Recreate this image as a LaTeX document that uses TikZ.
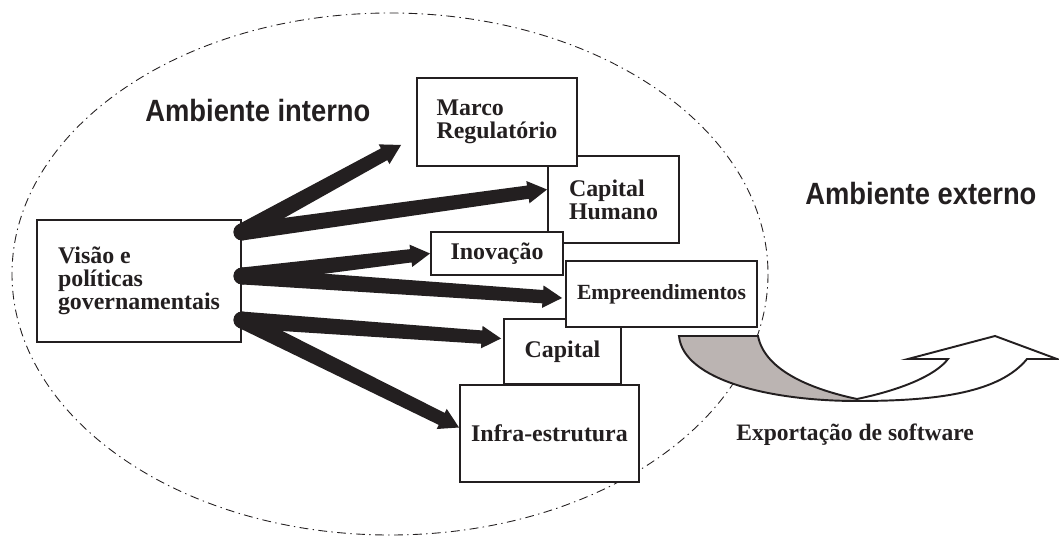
\documentclass[tikz,border=0pt]{standalone}
\usepackage{fontspec}
\setmainfont{Liberation Serif}
\newfontfamily\headfont[FakeStretch=0.89]{Liberation Sans}
\usetikzlibrary{calc,positioning}
\definecolor{ink}{RGB}{35,31,32}
\definecolor{greyfill}{RGB}{187,180,178}
%Tapered arrow from #1 to #2
\newcommand{\fatarrow}[2]{%
	\coordinate (neck) at ($(#2)!11pt!(#1)$);
	\fill[ink] ($(#1)!4.8pt!90:(#2)$) -- ($(neck)!3.8pt!-90:(#1)$) -- ($(neck)!6.4pt!-90:(#1)$) -- (#2)
		-- ($(neck)!6.4pt!90:(#1)$) -- ($(neck)!3.8pt!90:(#1)$) -- ($(#1)!4.8pt!-90:(#2)$) -- cycle;
	\fill[ink] (#1) circle (4.8pt);
}
\begin{document}
\begin{tikzpicture}[x=0.02cm,y=-0.02cm,
		box/.style={draw=ink,line width=1.1pt,fill=white,inner sep=0pt,align=left,text=ink,
			font=\bfseries\fontsize{13.6pt}{13.2pt}\selectfont},
		envlabel/.style={anchor=base west,inner sep=0pt,text=ink,
			font=\headfont\bfseries\fontsize{17.5pt}{20pt}\selectfont}]
	\useasboundingbox (0,0) rectangle (1059,537);
	%Ellipse
	\draw[ink,line width=0.5pt,dash pattern=on 5pt off 2.5pt on 0.8pt off 2.5pt] (390,274) ellipse [x radius=378,y radius=261];
	\node[envlabel] (interno) at (145,122) {Ambiente interno};
	\node[envlabel] (externo) at (805,205) {Ambiente externo};
	%Boxes
	\node[box,minimum width=2.62cm,minimum height=1.74cm] (humano) at (613.5,199.5) {Capital\\Humano};
	\node[box,minimum width=3.20cm,minimum height=1.76cm] (marco) at (497,122) {Marco\\Regulatório};
	\node[box,minimum width=2.64cm,minimum height=0.86cm] (inovacao) at (497,253.5) {Inovação};
	\node[box,minimum width=2.34cm,minimum height=1.30cm] (capital) at (562.5,351.5) {Capital};
	\node[box,minimum width=3.82cm,minimum height=1.32cm,font=\bfseries\fontsize{12.3pt}{13pt}\selectfont] (empreend) at (661.5,294) {Empreendimentos};
	\node[box,minimum width=3.58cm,minimum height=1.94cm] (infra) at (549.5,433.5) {Infra-estrutura};
	\node[box,minimum width=4.08cm,minimum height=2.44cm] (visao) at (139,281) {Visão e\\políticas\\governamentais};
	%Arrows
	\coordinate (s1) at ($(visao.east)+(0,-49)$);
	\coordinate (s2) at ($(visao.east)+(0,-5)$);
	\coordinate (s3) at ($(visao.east)+(0,39)$);
	\coordinate (tmarco) at ($(marco.south west)+(-15,-22)$);
	\coordinate (thumano) at ($(humano.west)+(0,-10)$);
	\coordinate (tinovacao) at (inovacao.west);
	\coordinate (tempreend) at ($(empreend.west)+(-3,4)$);
	\coordinate (tcapital) at ($(capital.west)+(-2,-13)$);
	\coordinate (tinfra) at ($(infra.west)+(0,-6)$);
	\foreach \s/\t in {s1/tmarco,s1/thumano,s2/tinovacao,s2/tempreend,s3/tcapital,s3/tinfra}
		{
			\fatarrow{\s}{\t}
		}
	%Export arrow
	\fill[white] (679,336) -- (758,336) .. controls (765,372) and (815,390) .. (857,399) .. controls (900,390) and (935,376) .. (948,359)
		-- (908,359) -- (995,336) -- (1057,359) -- (1027,359) .. controls (1000,392) and (940,401) .. (857,401)
		.. controls (770,401) and (683,380) .. (679,336) -- cycle;
	\fill[greyfill] (679,336) -- (758,336) .. controls (765,372) and (815,390) .. (857,399) -- (857,401)
		.. controls (770,401) and (683,380) .. (679,336) -- cycle;
	\draw[ink,line width=1.1pt,line join=miter] (679,336) -- (758,336) .. controls (765,372) and (815,390) .. (857,399) .. controls (900,390) and (935,376) .. (948,359)
		-- (908,359) -- (995,336) -- (1057,359) -- (1027,359) .. controls (1000,392) and (940,401) .. (857,401)
		.. controls (770,401) and (683,380) .. (679,336) -- cycle;
	\node[anchor=base west,inner sep=0pt,text=ink,font=\bfseries\fontsize{13.4pt}{14pt}\selectfont] (export) at (736,440) {Exportação de software};
\end{tikzpicture}
\end{document}
